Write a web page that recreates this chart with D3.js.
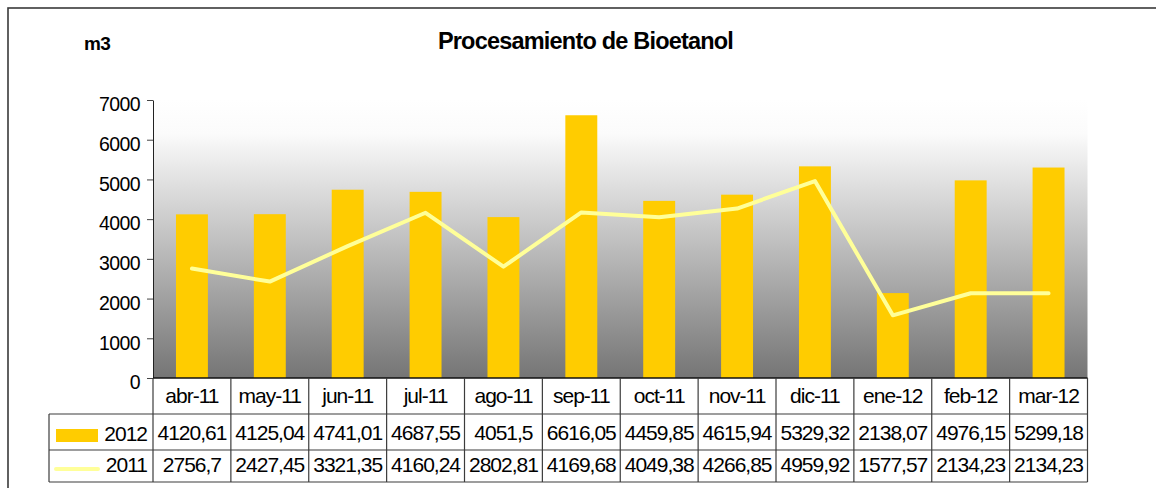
<!DOCTYPE html>
<html>
<head>
<meta charset="utf-8">
<script src="https://cdn.jsdelivr.net/npm/d3@7"></script>
<style>
  html, body { margin: 0; padding: 0; background: #fff; }
  svg { display: block; font-family: "Liberation Sans", Arial, sans-serif; }
</style>
</head>
<body>
<div id="chart"></div>
<script>
// datos del gráfico
const months = ['abr-11', 'may-11', 'jun-11', 'jul-11', 'ago-11', 'sep-11',
                'oct-11', 'nov-11', 'dic-11', 'ene-12', 'feb-12', 'mar-12'];
const values2012 = [4120.61, 4125.04, 4741.01, 4687.55, 4051.5, 6616.05,
                    4459.85, 4615.94, 5329.32, 2138.07, 4976.15, 5299.18];
const values2011 = [2756.7, 2427.45, 3321.35, 4160.24, 2802.81, 4169.68,
                    4049.38, 4266.85, 4959.92, 1577.57, 2134.23, 2134.23];
const yTicks = [0, 1000, 2000, 3000, 4000, 5000, 6000, 7000];
const seriesNames = ['2012', '2011'];

const width = 1156, height = 488;
const plot = { left: 153, right: 1087.5, top: 100, bottom: 378 };
const rowH = [378, 414, 450, 482];
const tableLeft = 49;
const barColor = '#ffcc00', lineColor = '#ffff99';

const esFormat = d3.formatLocale({ decimal: ',', thousands: '.', grouping: [3], currency: ['', ''] })
    .format('.2~f');

const svg = d3.select('#chart').append('svg')
    .attr('width', width)
    .attr('height', height);

// borde exterior
svg.append('rect')
    .attr('x', 8).attr('y', 8)
    .attr('width', 1300).attr('height', 700)
    .attr('fill', 'none')
    .attr('stroke', '#3a3a3a')
    .attr('stroke-width', 1.6);

// fondo degradado del área de trazado
const defs = svg.append('defs');
const grad = defs.append('linearGradient')
    .attr('id', 'bg').attr('x1', 0).attr('y1', 0).attr('x2', 0).attr('y2', 1);
grad.append('stop').attr('offset', '0%').attr('stop-color', '#ffffff');
grad.append('stop').attr('offset', '12%').attr('stop-color', '#fbfbfb');
grad.append('stop').attr('offset', '100%').attr('stop-color', '#757575');

svg.append('rect')
    .attr('x', plot.left).attr('y', plot.top)
    .attr('width', plot.right - plot.left)
    .attr('height', plot.bottom - plot.top)
    .attr('fill', 'url(#bg)');

// escalas
const x = d3.scaleBand()
    .domain(months)
    .range([plot.left, plot.right])
    .padding(0);
const y = d3.scaleLinear()
    .domain([0, 7000])
    .range([plot.bottom, plot.top]);

const barW = x.bandwidth() * 0.41;

// barras 2012
svg.append('g')
    .selectAll('rect')
    .data(values2012)
    .enter()
    .append('rect')
    .attr('x', (d, i) => x(months[i]) + (x.bandwidth() - barW) / 2)
    .attr('y', d => y(d))
    .attr('width', barW)
    .attr('height', d => y(0) - y(d))
    .attr('fill', barColor);

// línea 2011
const line = d3.line()
    .x((d, i) => x(months[i]) + x.bandwidth() / 2)
    .y(d => y(d));

svg.append('path')
    .datum(values2011)
    .attr('d', line)
    .attr('fill', 'none')
    .attr('stroke', lineColor)
    .attr('stroke-width', 4)
    .attr('stroke-linejoin', 'round')
    .attr('stroke-linecap', 'round');

// eje Y
const yAxis = svg.append('g')
    .attr('transform', `translate(${plot.left},0)`)
    .call(d3.axisLeft(y).tickValues(yTicks).tickFormat(d3.format('d'))
        .tickSize(6).tickSizeOuter(0).tickPadding(7));
yAxis.select('.domain').attr('stroke', '#222');
yAxis.selectAll('.tick line').attr('stroke', '#444');
yAxis.selectAll('.tick text')
    .attr('fill', '#000')
    .attr('font-size', '19.5px')
    .attr('letter-spacing', '-0.6px')
    .attr('font-family', '"Liberation Sans", Arial, sans-serif')
    .attr('dy', '0.55em');

// tabla de datos
const grid = svg.append('g')
    .attr('stroke', '#3c3c3c')
    .attr('stroke-width', 1.2)
    .attr('fill', 'none');

// líneas horizontales
grid.append('line').attr('x1', plot.left).attr('x2', plot.right)
    .attr('y1', rowH[0]).attr('y2', rowH[0]).attr('stroke', '#111').attr('stroke-width', 1.5);
[rowH[1], rowH[2], rowH[3]].forEach(yy => {
    grid.append('line').attr('x1', tableLeft).attr('x2', plot.right)
        .attr('y1', yy).attr('y2', yy);
});
// líneas verticales
grid.append('line').attr('x1', tableLeft).attr('x2', tableLeft)
    .attr('y1', rowH[1]).attr('y2', rowH[3]);
months.forEach(m => {
    grid.append('line').attr('x1', x(m)).attr('x2', x(m))
        .attr('y1', rowH[0]).attr('y2', rowH[3]);
});
grid.append('line').attr('x1', plot.right).attr('x2', plot.right)
    .attr('y1', rowH[0]).attr('y2', rowH[3]);

const textStyle = sel => sel
    .attr('fill', '#000')
    .attr('font-size', '21px')
    .attr('letter-spacing', '-1px');

// etiquetas de categoría
svg.append('g').selectAll('text')
    .data(months)
    .enter()
    .append('text')
    .attr('x', d => x(d) + x.bandwidth() / 2)
    .attr('y', 402.5)
    .attr('text-anchor', 'middle')
    .call(textStyle)
    .text(d => d);

// valores
[values2012, values2011].forEach((vals, r) => {
    svg.append('g').selectAll('text')
        .data(vals)
        .enter()
        .append('text')
        .attr('x', (d, i) => x(months[i]) + x.bandwidth() / 2)
        .attr('y', r === 0 ? 440 : 471.5)
        .attr('text-anchor', 'middle')
        .call(textStyle)
        .text(d => esFormat(d));
});

// leyenda dentro de la tabla
svg.append('rect')
    .attr('x', 56).attr('y', 429)
    .attr('width', 42).attr('height', 13)
    .attr('fill', barColor);
svg.append('line')
    .attr('x1', 56).attr('x2', 98)
    .attr('y1', 469).attr('y2', 469)
    .attr('stroke', lineColor)
    .attr('stroke-width', 4)
    .attr('stroke-linecap', 'round');
seriesNames.forEach((s, r) => {
    svg.append('text')
        .attr('x', 147)
        .attr('y', r === 0 ? 441 : 472)
        .attr('text-anchor', 'end')
        .call(textStyle)
        .text(s);
});

// título y unidad
svg.append('text')
    .attr('x', 585.5).attr('y', 49)
    .attr('text-anchor', 'middle')
    .attr('font-size', '23.5px')
    .attr('font-weight', 'bold')
    .attr('letter-spacing', '-0.8px')
    .attr('fill', '#000')
    .text('Procesamiento de Bioetanol');

svg.append('text')
    .attr('x', 97).attr('y', 50)
    .attr('text-anchor', 'middle')
    .attr('font-size', '19px')
    .attr('font-weight', 'bold')
    .attr('letter-spacing', '-0.8px')
    .attr('fill', '#000')
    .text('m3');
</script>
</body>
</html>
